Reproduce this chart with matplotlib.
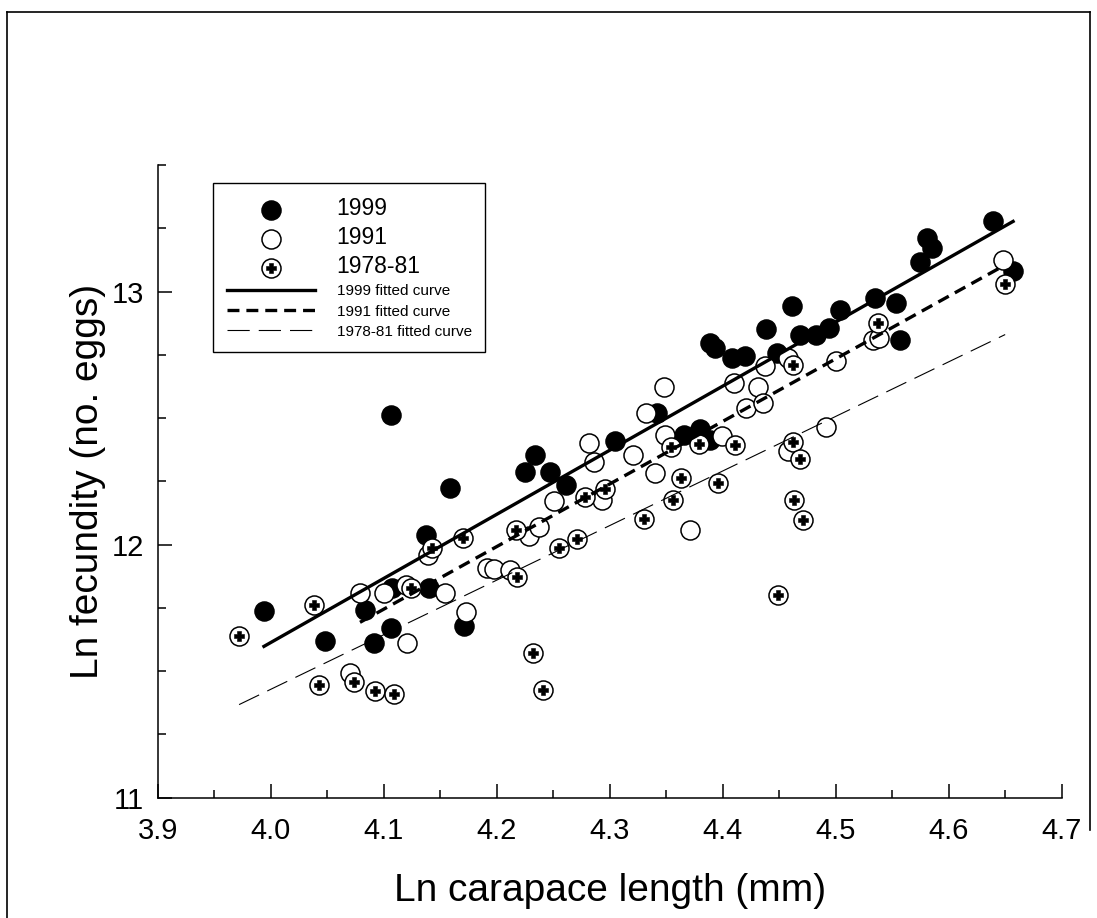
import matplotlib.pyplot as plt
from matplotlib.lines import Line2D
from matplotlib.legend_handler import HandlerTuple
from matplotlib.ticker import MultipleLocator, FormatStrFormatter

plt.rcParams['font.family'] = ['Liberation Sans', 'DejaVu Sans']
plt.rcParams['lines.scale_dashes'] = False

# 1999 (filled circles)
x_1999 = [3.994, 4.048, 4.083, 4.091, 4.106, 4.107, 4.106, 4.137, 4.140, 4.159,
          4.171, 4.225, 4.234, 4.247, 4.261, 4.305, 4.342, 4.366, 4.380, 4.389,
          4.389, 4.393, 4.408, 4.420, 4.438, 4.448, 4.461, 4.468, 4.483, 4.494,
          4.504, 4.535, 4.553, 4.557, 4.575, 4.581, 4.585, 4.639, 4.657]
y_1999 = [11.736, 11.618, 11.743, 11.611, 11.671, 11.829, 12.514, 12.040, 11.829, 12.224,
          11.680, 12.286, 12.356, 12.286, 12.237, 12.408, 12.520, 12.435, 12.455, 12.415,
          12.797, 12.777, 12.738, 12.747, 12.852, 12.758, 12.942, 12.828, 12.830, 12.856,
          12.928, 12.975, 12.953, 12.810, 13.116, 13.212, 13.173, 13.278, 13.080]

# 1991 (open circles)
x_1991 = [4.079, 4.100, 4.120, 4.121, 4.139, 4.154, 4.173, 4.070, 4.191, 4.198,
          4.212, 4.229, 4.237, 4.251, 4.282, 4.286, 4.293, 4.321, 4.332, 4.340,
          4.348, 4.349, 4.371, 4.399, 4.410, 4.421, 4.431, 4.436, 4.437, 4.458,
          4.458, 4.491, 4.500, 4.533, 4.538, 4.648]
y_1991 = [11.809, 11.809, 11.842, 11.611, 11.960, 11.809, 11.732, 11.493, 11.908, 11.905,
          11.900, 12.033, 12.068, 12.171, 12.402, 12.327, 12.178, 12.356, 12.520, 12.283,
          12.623, 12.435, 12.059, 12.431, 12.639, 12.538, 12.623, 12.560, 12.705, 12.738,
          12.369, 12.464, 12.727, 12.810, 12.817, 13.124]

# 1978-81 (circle with plus)
x_7881 = [3.972, 4.038, 4.043, 4.074, 4.092, 4.109, 4.124, 4.143, 4.170, 4.217,
          4.218, 4.232, 4.241, 4.255, 4.271, 4.278, 4.296, 4.330, 4.354, 4.356,
          4.363, 4.379, 4.396, 4.411, 4.449, 4.462, 4.468, 4.463, 4.471, 4.462,
          4.537, 4.650]
y_7881 = [11.638, 11.760, 11.447, 11.456, 11.420, 11.410, 11.829, 11.987, 12.026, 12.059,
          11.872, 11.573, 11.427, 11.987, 12.022, 12.188, 12.220, 12.103, 12.385, 12.178,
          12.264, 12.398, 12.244, 12.395, 11.800, 12.404, 12.339, 12.178, 12.099, 12.710,
          12.874, 13.028]

# fitted curves (end points)
fit_x_1999 = [3.994, 4.657]
fit_y_1999 = [11.598, 13.277]
fit_x_1991 = [4.079, 4.648]
fit_y_1991 = [11.693, 13.100]
fit_x_7881 = [3.972, 4.650]
fit_y_7881 = [11.368, 12.830]

fig = plt.figure(figsize=(10.97, 9.18), dpi=100)
ax = fig.add_axes([0.1438, 0.1310, 0.824, 0.6893])

ms = 13.7
mew = 1.1
plus_ms = 6.5
ax.plot(x_1999, y_1999, 'o', ms=ms, mfc='black', mec='black', mew=mew, zorder=2)
ax.plot(x_1991, y_1991, 'o', ms=ms, mfc='white', mec='black', mew=mew, zorder=3)
ax.plot(x_7881, y_7881, 'o', ms=ms, mfc='white', mec='black', mew=mew, zorder=4)
ax.plot(x_7881, y_7881, 'P', ms=plus_ms, mfc='black', mec='black', mew=0.4, zorder=4)

ax.plot(fit_x_1999, fit_y_1999, '-', color='black', lw=2.4, zorder=5)
ax.plot(fit_x_1991, fit_y_1991, color='black', lw=2.4, linestyle=(0, (8.6, 5.0)), zorder=5)
ax.plot(fit_x_7881, fit_y_7881, color='black', lw=0.8, linestyle=(0, (16, 6.5)), zorder=5)

ax.set_xlim(3.9, 4.7)
ax.set_ylim(11, 13.5)
ax.xaxis.set_major_locator(MultipleLocator(0.1))
ax.xaxis.set_minor_locator(MultipleLocator(0.05))
ax.xaxis.set_major_formatter(FormatStrFormatter('%.1f'))
ax.yaxis.set_major_locator(MultipleLocator(1))
ax.yaxis.set_minor_locator(MultipleLocator(0.25))

for s in ['top', 'right']:
    ax.spines[s].set_visible(False)
for s in ['left', 'bottom']:
    ax.spines[s].set_linewidth(1.1)

ax.tick_params(which='major', direction='in', length=10, width=1.1, labelsize=21, pad=10)
ax.tick_params(axis='x', which='major', pad=14)
ax.tick_params(which='minor', direction='in', length=5.8, width=1.1)

ax.set_xlabel('Ln carapace length (mm)', fontsize=28, labelpad=20)
ax.set_ylabel('Ln fecundity (no. eggs)', fontsize=28, labelpad=4)

# legend
h_1999 = Line2D([], [], ls='none', marker='o', ms=ms, mfc='black', mec='black', mew=mew)
h_1991 = Line2D([], [], ls='none', marker='o', ms=ms, mfc='white', mec='black', mew=mew)
h_circ = Line2D([], [], ls='none', marker='o', ms=ms, mfc='white', mec='black', mew=mew)
h_plus = Line2D([], [], ls='none', marker='P', ms=plus_ms, mfc='black', mec='black', mew=0.4)
h_f99 = Line2D([], [], color='black', lw=2.4)
h_f91 = Line2D([], [], color='black', lw=2.4, linestyle=(0, (8.6, 5.0)))
h_f78 = Line2D([], [], color='black', lw=0.8, linestyle=(0, (16, 6.5)))

labels = ['1999', '1991', '1978-81', '1999 fitted curve', '1991 fitted curve', '1978-81 fitted curve']
leg = ax.legend([h_1999, h_1991, (h_circ, h_plus), h_f99, h_f91, h_f78], labels,
                handler_map={tuple: HandlerTuple(ndivide=1)},
                loc='upper left', bbox_to_anchor=(0.061, 0.0, 0.301, 0.971), mode='expand',
                borderaxespad=0, fontsize=11, handlelength=5.8, handletextpad=1.4,
                labelspacing=0.4, borderpad=0.9, fancybox=False, framealpha=1)
leg.get_frame().set_edgecolor('black')
leg.get_frame().set_linewidth(1.0)
for t in leg.get_texts()[:3]:
    t.set_fontsize(16.5)

# page frame
fig.add_artist(Line2D([7 / 1097, 7 / 1097], [0, 1 - 12 / 918], color='black', lw=1.2))
fig.add_artist(Line2D([7 / 1097, 1090 / 1097], [1 - 12 / 918, 1 - 12 / 918], color='black', lw=1.2))
fig.add_artist(Line2D([1090 / 1097, 1090 / 1097], [1 - 830 / 918, 1 - 12 / 918], color='black', lw=1.2))

fig.savefig('out.png', dpi=100)
